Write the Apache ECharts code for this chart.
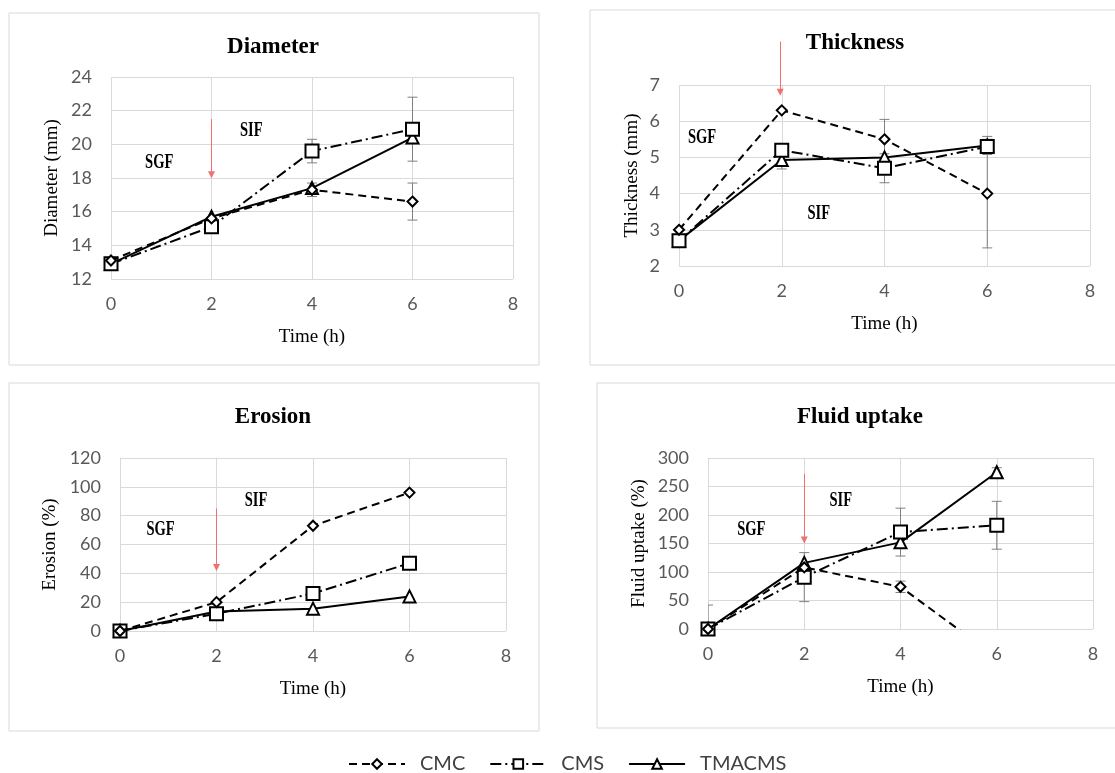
<!DOCTYPE html>
<html><head><meta charset="utf-8">
<script src="https://cdn.jsdelivr.net/npm/echarts@6/dist/echarts.min.js"></script>
<style>html,body{margin:0;padding:0;background:#fff}#c{width:1115px;height:773px}</style>
</head><body><div id="c"></div><script>
// ---------- data ----------
const times = [0, 2, 4, 6];
const seriesNames = ['CMC', 'CMS', 'TMACMS'];
const xTicks = [0, 2, 4, 6, 8];

const diameterYTicks = [12, 14, 16, 18, 20, 22, 24];
const diameterCMC = [13.1, 15.6, 17.3, 16.6];
const diameterCMS = [12.9, 15.1, 19.6, 20.9];
const diameterTMACMS = [12.9, 15.7, 17.4, 20.4];
const diameterErrCMC = [null, null, 0.4, 1.1];
const diameterErrCMS = [null, null, 0.7, 1.9];
const diameterErrTMACMS = [null, null, null, null];

const thicknessYTicks = [2, 3, 4, 5, 6, 7];
const thicknessCMC = [3.0, 6.3, 5.5, 4.0];
const thicknessCMS = [2.7, 5.2, 4.7, 5.3];
const thicknessTMACMS = [2.7, 4.93, 5.0, 5.33];
const thicknessErrCMC = [null, null, 0.55, 1.5];
const thicknessErrCMS = [null, null, 0.4, null];
const thicknessErrTMACMS = [null, 0.25, null, 0.25];

const erosionYTicks = [0, 20, 40, 60, 80, 100, 120];
const erosionCMC = [0, 20, 73, 96];
const erosionCMS = [0, 12, 26, 47];
const erosionTMACMS = [0, 13.5, 15.5, 24];
const erosionErrCMC = [null, null, null, null];
const erosionErrCMS = [null, null, null, null];
const erosionErrTMACMS = [null, null, null, null];

const fluidYTicks = [0, 50, 100, 150, 200, 250, 300];
const fluidCMC = [0, 108, 74, -50];
const fluidCMS = [0, 91, 170, 182];
const fluidTMACMS = [0, 116, 152, 275];
const fluidErrCMC = [null, null, 10, null];
const fluidErrCMS = [42, 43, 42, 42];
const fluidErrTMACMS = [null, null, null, 8];

// annotation positions (data space)
const diameterArrow = [[2, 21.5], [2, 18.2]];
const thicknessArrow = [[1.97, 8.2], [1.97, 6.8]];
const erosionArrow = [[2, 85], [2, 44]];
const fluidArrow = [[2, 272], [2, 156]];
const diameterSGF = [0.96, 18.95], diameterSIF = [2.79, 20.85];
const thicknessSGF = [0.45, 5.56], thicknessSIF = [2.72, 3.46];
const erosionSGF = [0.84, 70.7], erosionSIF = [2.82, 90.8];
const fluidSGF = [0.9, 175], fluidSIF = [2.76, 226];

// ---------- layout ----------
const panels = [
  { title: 'Diameter', yName: 'Diameter (mm)', yTicks: diameterYTicks,
    vals: [diameterCMC, diameterCMS, diameterTMACMS], errs: [diameterErrCMC, diameterErrCMS, diameterErrTMACMS],
    arrow: diameterArrow, sgf: diameterSGF, sif: diameterSIF,
    grid: { left: 111, top: 77, width: 402, height: 202 }, yGap: 49,
    box: [9, 13, 530, 352], titlePos: [273, 47] },
  { title: 'Thickness', yName: 'Thickness (mm)', yTicks: thicknessYTicks,
    vals: [thicknessCMC, thicknessCMS, thicknessTMACMS], errs: [thicknessErrCMC, thicknessErrCMS, thicknessErrTMACMS],
    arrow: thicknessArrow, sgf: thicknessSGF, sif: thicknessSIF,
    grid: { left: 679, top: 85, width: 411, height: 181 }, yGap: 37,
    box: [590, 10, 530, 355], titlePos: [855, 43] },
  { title: 'Erosion', yName: 'Erosion (%)', yTicks: erosionYTicks,
    vals: [erosionCMC, erosionCMS, erosionTMACMS], errs: [erosionErrCMC, erosionErrCMS, erosionErrTMACMS],
    arrow: erosionArrow, sgf: erosionSGF, sif: erosionSIF,
    grid: { left: 120, top: 458, width: 386, height: 173 }, yGap: 60,
    box: [9, 383, 530, 348], titlePos: [273, 417] },
  { title: 'Fluid uptake', yName: 'Fluid uptake (%)', yTicks: fluidYTicks,
    vals: [fluidCMC, fluidCMS, fluidTMACMS], errs: [fluidErrCMC, fluidErrCMS, fluidErrTMACMS],
    arrow: fluidArrow, sgf: fluidSGF, sif: fluidSIF,
    grid: { left: 708, top: 458, width: 385, height: 171 }, yGap: 59,
    box: [597, 383, 530, 345], titlePos: [860, 417] }
];

const styles = [
  { symbol: 'diamond', size: 10, dash: [8, 5] },
  { symbol: 'rect', size: 13, dash: [11, 4, 2, 4] },
  { symbol: 'triangle', size: 12, dash: 'solid' }
];

const gridOpts = [], xAxes = [], yAxes = [], series = [];
panels.forEach((p, gi) => {
  gridOpts.push(Object.assign({ containLabel: false, outerBoundsMode: 'none' }, p.grid));
  xAxes.push({
    type: 'value', gridIndex: gi, min: xTicks[0], max: xTicks[xTicks.length - 1], interval: xTicks[1] - xTicks[0],
    axisLine: { show: false }, axisTick: { show: false },
    splitLine: { show: true, lineStyle: { color: '#d9d9d9', width: 1 } },
    axisLabel: { color: '#595959', fontFamily: 'Lato', fontSize: 18, margin: 16 },
    name: 'Time (h)', nameLocation: 'middle', nameGap: 49,
    nameTextStyle: { fontFamily: 'Liberation Serif', fontSize: 19, color: '#000' }
  });
  const yt = p.yTicks;
  yAxes.push({
    type: 'value', gridIndex: gi, min: yt[0], max: yt[yt.length - 1], interval: yt[1] - yt[0],
    axisLine: { show: false }, axisTick: { show: false },
    splitLine: { show: true, lineStyle: { color: '#d9d9d9', width: 1 } },
    axisLabel: { color: '#595959', fontFamily: 'Lato', fontSize: 18, margin: 19 },
    name: p.yName, nameLocation: 'middle', nameGap: p.yGap, nameMoveOverlap: false,
    nameTextStyle: { fontFamily: 'Liberation Serif', fontSize: 19, color: '#000' }
  });
  // error bars
  p.vals.forEach((vals, si) => {
    const errs = p.errs[si];
    const data = [];
    times.forEach((t, i) => { if (errs[i] != null) data.push([t, vals[i] - errs[i], vals[i] + errs[i]]); });
    if (!data.length) return;
    series.push({
      type: 'custom', xAxisIndex: gi, yAxisIndex: gi, clip: true, silent: true, z: 1,
      data: data, encode: { x: 0, y: [1, 2] },
      renderItem: function (params, api) {
        const x = api.value(0);
        const lo = api.coord([x, api.value(1)]);
        const hi = api.coord([x, api.value(2)]);
        const w = 5;
        const st = { stroke: '#808080', lineWidth: 1 };
        return { type: 'group', children: [
          { type: 'line', shape: { x1: lo[0], y1: lo[1], x2: hi[0], y2: hi[1] }, style: st },
          { type: 'line', shape: { x1: lo[0] - w, y1: lo[1], x2: lo[0] + w, y2: lo[1] }, style: st },
          { type: 'line', shape: { x1: hi[0] - w, y1: hi[1], x2: hi[0] + w, y2: hi[1] }, style: st }
        ] };
      }
    });
  });
  // lines
  p.vals.forEach((vals, si) => {
    const s = styles[si];
    series.push({
      type: 'line', name: seriesNames[si], xAxisIndex: gi, yAxisIndex: gi, clip: true,
      data: times.map((t, i) => [t, vals[i]]),
      symbol: s.symbol, symbolSize: s.size, showSymbol: true,
      lineStyle: { color: '#000', width: 2, type: s.dash },
      itemStyle: { color: '#fff', borderColor: '#000', borderWidth: 2 },
      emphasis: { disabled: true }, z: 3 + (2 - si)
    });
  });
  // red arrow
  series.push({
    type: 'lines', coordinateSystem: 'cartesian2d', xAxisIndex: gi, yAxisIndex: gi, clip: false, silent: true,
    symbol: ['none', 'triangle'], symbolSize: [0, 7], z: 6,
    lineStyle: { color: '#f07070', width: 1, opacity: 1, curveness: 0 },
    itemStyle: { color: '#ff2020' },
    data: [{ coords: p.arrow }]
  });
});

const chart = echarts.init(document.getElementById('c'), null, { renderer: 'canvas' });
chart.setOption({
  animation: false,
  backgroundColor: '#fff',
  grid: gridOpts, xAxis: xAxes, yAxis: yAxes,
  legend: {
    data: seriesNames, left: 348, top: 752, padding: 0, itemWidth: 56, itemHeight: 12, itemGap: 24,
    textStyle: { fontFamily: 'Lato', fontSize: 20, color: '#404040', padding: [0, 0, 0, 10], lineHeight: 24 },
    selectedMode: false
  },
  series: series
});

const graphics = [];
panels.forEach((p, gi) => {
  graphics.push({ type: 'rect', silent: true, z: -10,
    shape: { x: p.box[0], y: p.box[1], width: p.box[2], height: p.box[3] },
    style: { fill: 'none', stroke: '#d9d9d9', lineWidth: 1 } });
  graphics.push({ type: 'text', silent: true, x: p.titlePos[0], y: p.titlePos[1],
    style: { text: p.title, font: 'bold 23px "Liberation Serif"', fill: '#000',
      align: 'center', verticalAlign: 'middle', textAlign: 'center', textVerticalAlign: 'middle' } });
  [['SGF', p.sgf], ['SIF', p.sif]].forEach(([txt, pos]) => {
    const px = chart.convertToPixel({ gridIndex: gi }, pos);
    graphics.push({ type: 'text', silent: true, x: px[0], y: px[1], scaleX: 0.66,
      style: { text: txt, font: 'bold 22px "Liberation Serif"', fill: '#000',
        align: 'center', verticalAlign: 'middle', textAlign: 'center', textVerticalAlign: 'middle' } });
  });
});
chart.setOption({ graphic: graphics });
</script></body></html>
